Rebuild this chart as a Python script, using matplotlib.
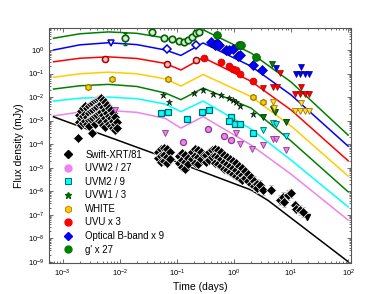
import numpy as np
import matplotlib.pyplot as plt
from matplotlib.lines import Line2D
from matplotlib.ticker import LogLocator, NullFormatter, FixedLocator

plt.rcParams['font.family'] = ['Liberation Sans', 'DejaVu Sans']
plt.rcParams['mathtext.fontset'] = 'custom'
plt.rcParams['mathtext.rm'] = 'Liberation Sans'

# ---- model curves (log10 days, log10 mJy) ----
knot_t = [-3.16, -2.7, -2.2, -1.7, -1.2, -0.93, -0.54, 0.30, 1.0, 2.0]
mod_g = [0.50, 0.69, 0.77, 0.71, 0.51, 0.33, 0.86, -0.13, -1.36, -3.62]
mod_B = [0.00, 0.22, 0.31, 0.23, 0.00, -0.23, 0.30, -0.69, -1.91, -4.09]
mod_U = [-0.50, -0.35, -0.29, -0.36, -0.57, -0.85, -0.32, -1.33, -2.55, -4.71]
mod_W = [-1.16, -1.01, -0.94, -1.01, -1.23, -1.53, -1.04, -1.98, -3.23, -5.36]
mod_W1 = [-1.66, -1.52, -1.46, -1.55, -1.83, -2.11, -1.62, -2.47, -3.87, -6.03]
mod_M2 = [-2.17, -2.05, -2.00, -2.07, -2.30, -2.62, -2.17, -3.36, -4.68, -6.67]
mod_W2 = [-2.80, -2.64, -2.57, -2.65, -2.91, -3.32, -2.83, -4.04, -5.28, -7.23]
xmod_t = [-3.16, -1.32, 0.30, 0.60, 2.0]
xmod_f = [-2.84, -4.47, -5.95, -6.40, -9.0]

# ---- photometry (log10 days, log10 mJy) ----
g_open_t = [-1.90, -1.44, -1.22, -1.08, -0.96, -0.87, -0.81, -0.73, -0.67, -0.61]
g_open_f = [0.50, 0.75, 0.50, 0.47, 0.40, 0.34, 0.43, 0.54, 0.72, 0.78]
g_t = [-0.29, 0.09, 0.12, 0.39]
g_f = [0.64, 0.20, 0.23, -0.29]
g_ul_t = [0.66]
g_ul_f = [-0.60]

B_open_t = [-1.18, -0.66]
B_open_f = [0.04, 0.23]
B_tri_t = [-2.15]
B_tri_f = [0.32]
B_t = [-0.40, -0.34, -0.29, -0.26, -0.14, -0.08, -0.02, 0.07, 0.11, 0.33, 0.49]
B_f = [0.33, 0.21, 0.30, 0.23, 0.00, 0.02, 0.06, -0.26, -0.21, -0.64, -0.84]
B_ul_t = [0.74, 1.18, 1.08, 1.16, 1.24, 1.32]
B_ul_f = [-0.78, -0.71, -1.04, -1.04, -1.04, -1.04]

U_open_t = [-2.26, -1.18, -0.67]
U_open_f = [-0.38, -0.60, -0.43]
U_t = [-0.52, -0.22, -0.08, -0.02, 0.04, 0.11, 0.33]
U_f = [-0.32, -0.51, -0.70, -0.79, -0.87, -1.00, -1.32]
U_ul_t = [0.50, 0.68, 0.75, 0.80, 1.18, 1.07, 1.16, 1.25, 1.32]
U_ul_f = [-1.63, -1.57, -1.57, -0.96, -1.57, -1.89, -1.89, -1.89, -1.89]

W_t = [-2.55, -2.13, -1.16, 0.33, 0.50]
W_f = [-1.56, -1.22, -1.23, -1.99, -2.23]
W_ul_t = [0.68, 0.70, 1.18, 1.07, 1.16, 1.25, 1.32]
W_ul_f = [-2.20, -2.45, -2.26, -2.60, -2.60, -2.60, -2.60]

W1_t = [-1.25, -1.14, -0.70, -0.54, -0.37, -0.23, -0.08, -0.02, 0.04, 0.11, 0.33]
W1_f = [-1.92, -2.23, -1.83, -1.70, -1.85, -1.92, -2.05, -2.13, -2.21, -2.40, -2.72]
W1_ul_t = [0.51, 0.68, 0.71, 0.91]
W1_ul_f = [-2.85, -2.50, -2.62, -3.06]

M2_t = [-1.28, -1.15, -0.82, -0.56, -0.43, -0.05, -0.09, 0.01, 0.10, 0.33]
M2_f = [-2.66, -2.62, -2.93, -2.62, -2.53, -2.83, -3.02, -3.13, -3.15, -3.51]
M2_ul_t = [0.50, 0.68, 0.73, 0.91]
M2_ul_f = [-3.40, -3.09, -3.14, -3.64]

W2_t = [-0.90, -0.46, -0.17, -0.05]
W2_f = [-3.90, -3.34, -3.64, -3.83]
W2_ul_t = [-2.09, -1.21, 0.04, 0.11, 0.31, 0.51, 0.68, 0.74, 0.91]
W2_ul_f = [-2.55, -3.53, -3.51, -4.00, -4.19, -4.04, -3.77, -3.77, -4.26]

# Swift-XRT / 81
xrt_t = [-2.72, -2.72, -2.68, -2.68, -2.68, -2.65, -2.65, -2.65, -2.61, -2.61, -2.61,
         -2.58, -2.58, -2.58, -2.54, -2.54, -2.54, -2.54, -2.51, -2.51, -2.51,
         -2.47, -2.47, -2.47, -2.44, -2.44, -2.44, -2.44, -2.40, -2.40, -2.40,
         -2.37, -2.37, -2.37, -2.37, -2.33, -2.33, -2.33, -2.33, -2.30, -2.30, -2.30, -2.30,
         -2.26, -2.26, -2.26, -2.26, -2.23, -2.23, -2.23, -2.19, -2.19, -2.19,
         -2.16, -2.16, -2.16, -2.12, -2.12, -2.12, -2.09, -2.09, -2.09, -2.05, -2.05,
         -2.73, -2.49,
         -1.33, -1.33, -1.28, -1.28, -1.28, -1.23, -1.23, -1.23, -1.18, -1.18, -1.18, -1.12, -1.12,
         -0.97, -0.97, -0.91, -0.91, -0.91, -0.86, -0.86, -0.86, -0.81, -0.81,
         -0.74, -0.74, -0.68, -0.68, -0.68, -0.63, -0.63, -0.63, -0.58, -0.58, -0.53,
         -0.49, -0.49, -0.44, -0.44, -0.39, -0.39, -0.33, -0.33, -0.33, -0.28, -0.28, -0.28,
         -0.23, -0.23, -0.23, -0.18, -0.18, -0.18, -0.12, -0.12, -0.12, -0.07, -0.07, -0.07,
         -0.02, -0.02, -0.02, 0.04, 0.04, 0.04, 0.09, 0.09, 0.09, 0.14, 0.14, 0.14,
         0.19, 0.19, 0.25, 0.25, 0.30, 0.30]
xrt_f = [-2.77, -3.06, -2.60, -2.89, -3.19, -2.47, -2.81, -3.11, -2.38, -2.72, -3.02,
         -2.47, -2.85, -3.15, -2.38, -2.68, -2.98, -3.23, -2.30, -2.60, -2.94,
         -2.26, -2.55, -2.89, -2.17, -2.47, -2.81, -3.15, -2.13, -2.43, -2.77,
         -2.09, -2.34, -2.68, -3.02, -2.04, -2.30, -2.64, -3.06, -2.13, -2.43, -2.77, -3.19,
         -2.21, -2.55, -2.89, -3.28, -2.34, -2.68, -3.02, -2.47, -2.81, -3.15,
         -2.55, -2.89, -3.23, -2.68, -3.02, -3.32, -2.85, -3.15, -3.40, -3.06, -3.32,
         -3.73, -3.53,
         -4.34, -4.60, -4.21, -4.51, -4.77, -4.17, -4.47, -4.72, -4.21, -4.55, -4.81, -4.34, -4.64,
         -4.51, -4.81, -4.38, -4.68, -4.98, -4.47, -4.77, -5.06, -4.60, -4.85,
         -4.34, -4.64, -4.21, -4.51, -4.81, -4.26, -4.55, -4.85, -4.34, -4.64, -4.47,
         -4.47, -4.77, -4.34, -4.68, -4.26, -4.55, -4.21, -4.51, -4.81, -4.26, -4.55, -4.85,
         -4.34, -4.64, -4.94, -4.47, -4.77, -5.06, -4.55, -4.85, -5.11, -4.64, -4.94, -5.19,
         -4.72, -5.02, -5.28, -4.81, -5.11, -5.36, -4.94, -5.23, -5.45, -5.02, -5.32, -5.53,
         -5.15, -5.45, -5.28, -5.57, -5.40, -5.70]
xrt_late_t = [0.35, 0.35, 0.40, 0.40, 0.46, 0.51, 0.64, 0.80, 0.85, 0.88, 0.94, 1.00, 1.06, 1.09, 1.15, 1.21]
xrt_late_f = [-5.57, -5.79, -5.70, -5.87, -5.74, -5.96, -5.93, -6.38, -6.24, -6.46, -6.17, -6.10, -6.60, -6.74, -6.81, -6.88]
xrt_ul_t = [1.28]
xrt_ul_f = [-7.12]

x_decades = [-3, -2, -1, 0, 1, 2]
y_decades = [-9, -8, -7, -6, -5, -4, -3, -2, -1, 0]


def p10(v):
    return np.power(10.0, np.array(v, dtype=float))


fig = plt.figure(figsize=(3.9, 2.94), dpi=100)
ax = fig.add_axes([0.126, 0.105, 0.774, 0.8])

# model lines
lw = 1.1
ax.plot(p10(knot_t), p10(mod_g), color='#008000', lw=lw, zorder=1)
ax.plot(p10(knot_t), p10(mod_B), color='#0000ff', lw=lw, zorder=1)
ax.plot(p10(knot_t), p10(mod_U), color='#ff0000', lw=lw, zorder=1)
ax.plot(p10(knot_t), p10(mod_W), color='#ffcc00', lw=lw, zorder=1)
ax.plot(p10(knot_t), p10(mod_W1), color='#008000', lw=lw, zorder=1)
ax.plot(p10(knot_t), p10(mod_M2), color='#00ffff', lw=lw, zorder=1)
ax.plot(p10(knot_t), p10(mod_W2), color='#ee82ee', lw=lw, zorder=1)
ax.plot(p10(xmod_t), p10(xmod_f), color='black', lw=lw, zorder=1)

ms = 4.4
# XRT
ax.plot(p10(xrt_t), p10(xrt_f), 'D', ms=ms + 0.4, mfc='black', mec='white', mew=0.5, ls='none', zorder=3)
lf = np.array(xrt_late_f)
ax.errorbar(p10(xrt_late_t), p10(lf), yerr=[p10(lf) - p10(lf - 0.2), p10(lf + 0.2) - p10(lf)],
            fmt='D', ms=ms + 0.4, mfc='black', mec='white', mew=0.5, ecolor='#888888', elinewidth=0.7,
            capsize=1.5, zorder=3)
ax.plot(p10(xrt_ul_t), p10(xrt_ul_f), 'v', ms=ms, color='black', zorder=3)

# UVW2
ax.plot(p10(W2_t), p10(W2_f), 'o', ms=ms, mfc='#ee82ee', mec='#8b3a8b', mew=0.9, ls='none', zorder=3)
ax.plot(p10(W2_ul_t), p10(W2_ul_f), 'v', ms=ms, mfc='#ee82ee', mec='#8b3a8b', mew=0.6, ls='none', zorder=3)
# UVM2
ax.plot(p10(M2_t), p10(M2_f), 's', ms=ms, mfc='#00ffff', mec='#006b6b', mew=0.9, ls='none', zorder=3)
ax.plot(p10(M2_ul_t), p10(M2_ul_f), 'v', ms=ms, mfc='#00ffff', mec='#006b6b', mew=0.6, ls='none', zorder=3)
# UVW1
ax.plot(p10(W1_t), p10(W1_f), '*', ms=ms + 0.5, mfc='#006400', mec='black', mew=0.4, ls='none', zorder=3)
ax.plot(p10(W1_ul_t), p10(W1_ul_f), 'v', ms=ms, mfc='#008000', mec='#003300', mew=0.6, ls='none', zorder=3)
# WHITE
ax.plot(p10(W_t), p10(W_f), 'h', ms=ms, mfc='#ffcc00', mec='#9a7a00', mew=0.9, ls='none', zorder=3)
ax.plot(p10(W_ul_t), p10(W_ul_f), 'v', ms=ms, mfc='#ffdd33', mec='#9a7a00', mew=0.6, ls='none', zorder=3)
# UVU
ax.plot(p10(U_open_t), p10(U_open_f), 'o', ms=ms, mfc='#f4c0c0', mec='#b00000', mew=1.1, ls='none', zorder=3)
ax.plot(p10(U_t), p10(U_f), 'o', ms=ms + 0.6, mfc='#ff0000', mec='#cc0000', mew=0.5, ls='none', zorder=3)
ax.plot(p10(U_ul_t), p10(U_ul_f), 'v', ms=ms + 0.6, mfc='#ff0000', mec='#990000', mew=0.5, ls='none', zorder=3)
# B
ax.plot(p10(B_open_t), p10(B_open_f), 'D', ms=ms, mfc='white', mec='#0000cc', mew=1.1, ls='none', zorder=3)
ax.plot(p10(B_tri_t), p10(B_tri_f), 'v', ms=ms, mfc='white', mec='#0000cc', mew=1.1, ls='none', zorder=3)
ax.plot(p10(B_t), p10(B_f), 'D', ms=ms + 0.6, mfc='#0000ff', mec='#000088', mew=0.5, ls='none', zorder=3)
ax.plot(p10(B_ul_t), p10(B_ul_f), 'v', ms=ms + 0.6, mfc='#0000ff', mec='#000088', mew=0.5, ls='none', zorder=3)
# g'
gf = np.array(g_open_f)
ax.errorbar(p10(g_open_t[:1]), p10(gf[:1]), yerr=[p10(gf[:1]) - p10(gf[:1] - 0.29), p10(gf[:1] + 0.22) - p10(gf[:1])],
            fmt='none', ecolor='#006400', elinewidth=0.8, capsize=1.5, zorder=2)
ax.plot(p10(g_open_t), p10(g_open_f), 'o', ms=ms + 0.3, mfc='#d8ead8', mec='#006400', mew=1.2, ls='none', zorder=3)
ax.plot(p10(g_t), p10(g_f), 'o', ms=ms + 1.2, mfc='#008000', mec='#005000', mew=0.5, ls='none', zorder=3)
ax.plot(p10(g_ul_t), p10(g_ul_f), 'v', ms=ms + 0.6, mfc='#008000', mec='#003300', mew=0.5, ls='none', zorder=3)

ax.set_xscale('log')
ax.set_yscale('log')
ax.set_xlim(5.8e-4, 112)
ax.set_ylim(8.7e-10, 8.7)

ax.xaxis.set_major_locator(FixedLocator(p10(x_decades)))
ax.yaxis.set_major_locator(FixedLocator(p10(y_decades)))
ax.xaxis.set_minor_locator(LogLocator(base=10, subs=np.arange(2, 10), numticks=100))
ax.yaxis.set_minor_locator(LogLocator(base=10, subs=np.arange(2, 10), numticks=100))
ax.xaxis.set_minor_formatter(NullFormatter())
ax.yaxis.set_minor_formatter(NullFormatter())
ax.tick_params(which='both', direction='in', top=True, right=True, labelsize=5.5,
               color='#555555', width=0.6)
ax.tick_params(which='major', length=3)
ax.tick_params(which='minor', length=1.5)
for s in ax.spines.values():
    s.set_color('#555555')
    s.set_linewidth(0.8)

ax.set_xlabel('Time (days)', fontsize=7.5, labelpad=2)
ax.set_ylabel('Flux density (mJy)', fontsize=7.5, labelpad=3)

handles = [
    Line2D([], [], ls='none', marker='D', ms=4.5, mfc='black', mec='black'),
    Line2D([], [], ls='none', marker='o', ms=5, mfc='#ee82ee', mec='#ee82ee'),
    Line2D([], [], ls='none', marker='s', ms=5, mfc='#00ffff', mec='#006b6b', mew=0.7),
    Line2D([], [], ls='none', marker='*', ms=5, mfc='#006400', mec='#006400'),
    Line2D([], [], ls='none', marker='h', ms=5, mfc='#ffcc00', mec='#d08000', mew=0.7),
    Line2D([], [], ls='none', marker='o', ms=5, mfc='#ff0000', mec='#ff0000'),
    Line2D([], [], ls='none', marker='D', ms=4.5, mfc='#0000ff', mec='#0000ff'),
    Line2D([], [], ls='none', marker='o', ms=5, mfc='#008000', mec='#008000'),
]
labels = ['Swift-XRT/81', 'UVW2 / 27', 'UVM2 / 9', 'UVW1 / 3', 'WHITE', 'UVU x 3',
          'Optical B-band x 9', "g' x 27"]
ax.legend(handles, labels, loc='lower left', bbox_to_anchor=(0.025, 0.008), frameon=False,
          fontsize=6.9, handlelength=1.0, handletextpad=1.3, labelspacing=0.37,
          borderpad=0.2)

fig.savefig('out.png', dpi=100)
